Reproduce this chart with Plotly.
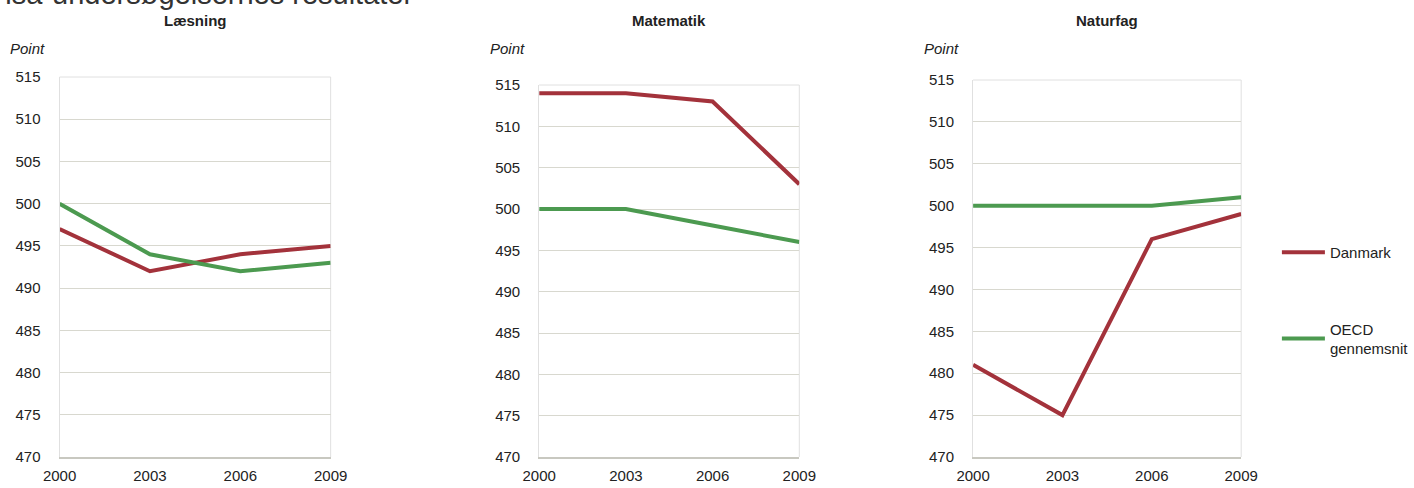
import plotly.graph_objects as go

# data
years = ["2000", "2003", "2006", "2009"]
subjects = ["Læsning", "Matematik", "Naturfag"]
danmark = {
    "Læsning": [497, 492, 494, 495],
    "Matematik": [514, 514, 513, 503],
    "Naturfag": [481, 475, 496, 499],
}
oecd = {
    "Læsning": [500, 494, 492, 493],
    "Matematik": [500, 500, 498, 496],
    "Naturfag": [500, 500, 500, 501],
}
y_ticks = [470, 475, 480, 485, 490, 495, 500, 505, 510, 515]

red = "#A3323B"
green = "#4C9A50"
grid = "#D8D8CF"
W, H = 1414, 488

# plot boxes in pixels: left, right, top (515), bottom (470)
boxes = [(60, 333, 77, 457), (543, 805, 85, 457), (980, 1250, 80, 457)]

fig = go.Figure()
for i, s in enumerate(subjects):
    n = "" if i == 0 else str(i + 1)
    fig.add_trace(go.Scatter(x=years, y=danmark[s], mode="lines", name="Danmark",
                             line=dict(color=red, width=4), xaxis="x" + n, yaxis="y" + n,
                             showlegend=(i == 0), legendgroup="dk"))
    fig.add_trace(go.Scatter(x=years, y=oecd[s], mode="lines", name="OECD<br>gennemsnit",
                             line=dict(color=green, width=4), xaxis="x" + n, yaxis="y" + n,
                             showlegend=(i == 0), legendgroup="oecd"))

layout = dict(
    width=W, height=H,
    margin=dict(l=0, r=0, t=0, b=0, pad=0),
    paper_bgcolor="white", plot_bgcolor="white",
    font=dict(family="Liberation Sans, Arial", size=15, color="#222"),
    legend=dict(x=1286 / W, y=1 - 236 / H, xanchor="left", yanchor="top",
                tracegroupgap=54, traceorder="grouped", font=dict(size=15),
                itemwidth=43, bgcolor="rgba(0,0,0,0)"),
    annotations=[],
    shapes=[],
)
for i, (l, r, t, b) in enumerate(boxes):
    n = "" if i == 0 else str(i + 1)
    layout["xaxis" + n] = dict(domain=[l / W, r / W], anchor="y" + n, type="category",
                               range=[0, 3], showgrid=False, automargin=False,
                               showline=True, linecolor="#C8C8C0", linewidth=1.5,
                               ticks="", tickfont=dict(size=15), zeroline=False,
                               ticklabelstandoff=4)
    layout["yaxis" + n] = dict(domain=[1 - b / H, 1 - t / H], anchor="x" + n,
                               range=[470, 515], tickvals=y_ticks, showgrid=True,
                               gridcolor=grid, gridwidth=1, ticks="", zeroline=False,
                               automargin=False, showline=True, linecolor="#E0E0E0",
                               ticklabelstandoff=15, tickfont=dict(size=15))
    cx = (l + r) / 2
    layout["annotations"].append(dict(text="<b>" + subjects[i] + "</b>", x=cx / W, y=1 - 20 / H,
                                      xref="paper", yref="paper", xanchor="center",
                                      yanchor="middle", showarrow=False, font=dict(size=15)))
    layout["annotations"].append(dict(text="<i>Point</i>", x=(l - 32) / W, y=1 - 49 / H,
                                      xref="paper", yref="paper", xanchor="center",
                                      yanchor="middle", showarrow=False, font=dict(size=15)))
    # right and top edges of the box
    layout["shapes"].append(dict(type="line", xref="paper", yref="paper",
                                 x0=r / W, x1=r / W, y0=1 - b / H, y1=1 - t / H,
                                 line=dict(color="#E0E0E0", width=1), layer="below"))
    layout["shapes"].append(dict(type="line", xref="paper", yref="paper",
                                 x0=l / W, x1=r / W, y0=1 - t / H, y1=1 - t / H,
                                 line=dict(color="#E0E0E0", width=1), layer="below"))

# the page heading, cut off at the top of the picture
layout["annotations"].append(dict(text="Pisa-undersøgelsernes resultater", x=418 / W, y=1,
                                  xref="paper", yref="paper", xanchor="right", yanchor="middle",
                                  yshift=6, showarrow=False, font=dict(size=29, color="#333")))

fig.update_layout(**layout)
# drop the page's default body margin so the figure sits at the window's corner
fig.write_html("out.html", config={"displayModeBar": False},
               post_script="document.body.style.margin='0';")
